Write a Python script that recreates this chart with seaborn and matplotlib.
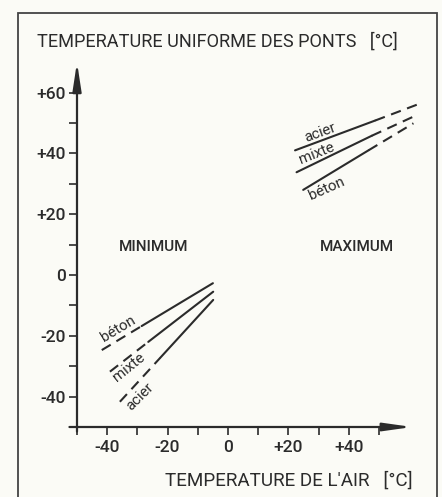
import matplotlib
matplotlib.use("Agg")
import matplotlib.pyplot as plt
from matplotlib.patches import Rectangle
import seaborn as sns
import pandas as pd

# ---------------- data ----------------
materials = ["béton", "mixte", "acier"]
# minimum (winter) lines: dashed start, solid start, end
min_x_dash = [-41.8, -39.1, -35.8]
min_y_dash = [-24.7, -31.8, -41.7]
min_x_solid = [-28.6, -26.4, -22.5]
min_y_solid = [-16.8, -22.0, -27.3]
min_x_end = [-5.0, -4.9, -4.9]
min_y_end = [-2.7, -5.5, -8.2]
# maximum (summer) lines: solid start, dashed start, end
max_x_solid = [24.9, 22.7, 22.2]
max_y_solid = [28.0, 33.8, 41.0]
max_x_dash = [46.5, 47.6, 48.7]
max_y_dash = [41.0, 45.8, 50.8]
max_x_end = [61.4, 62.5, 62.5]
max_y_end = [49.9, 52.6, 56.0]

y_ticks = [-40, -30, -20, -10, 0, 10, 20, 30, 40, 50, 60]
y_labels = ["-40", "", "-20", "", "0", "", "+20", "", "+40", "", "+60"]
x_ticks = [-50, -40, -30, -20, -10, 0, 10, 20, 30, 40, 50]
x_labels = ["", "-40", "", "-20", "", "0", "", "+20", "", "+40", ""]

title_y = "TEMPERATURE UNIFORME DES PONTS   [°C]"
title_x = "TEMPERATURE DE L'AIR   [°C]"

# label positions (text annotations)
min_lab_x = [-36.5, -32.8, -29.1]
min_lab_y = [-17.8, -30.2, -40.0]
min_lab_rot = [31, 39, 45]
max_lab_x = [32.8, 29.5, 30.5]
max_lab_y = [28.3, 40.0, 46.8]
max_lab_rot = [24, 22, 20]

# ---------------- build tables ----------------
rows = []
for i, m in enumerate(materials):
    rows += [
        dict(seg=f"min_dash_{m}", style="dash", x=min_x_dash[i], y=min_y_dash[i]),
        dict(seg=f"min_dash_{m}", style="dash", x=min_x_solid[i], y=min_y_solid[i]),
        dict(seg=f"min_solid_{m}", style="solid", x=min_x_solid[i], y=min_y_solid[i]),
        dict(seg=f"min_solid_{m}", style="solid", x=min_x_end[i], y=min_y_end[i]),
        dict(seg=f"max_solid_{m}", style="solid", x=max_x_solid[i], y=max_y_solid[i]),
        dict(seg=f"max_solid_{m}", style="solid", x=max_x_dash[i], y=max_y_dash[i]),
        dict(seg=f"max_dash_{m}", style="dash", x=max_x_dash[i], y=max_y_dash[i]),
        dict(seg=f"max_dash_{m}", style="dash", x=max_x_end[i], y=max_y_end[i]),
    ]
df = pd.DataFrame(rows)

# ---------------- figure ----------------
sns.set_theme(style="white")
plt.rcParams["font.family"] = ["Roboto", "DejaVu Sans"]
ink = "#2b2b2b"
bg = "#fbfbf6"

fig = plt.figure(figsize=(4.42, 4.97), dpi=100, facecolor=bg)
W, H = 442, 497
x0, xmin, xmax, pxx = 77, -50, 64, 3.02
y0, ymin, ymax, pxy = 427, -50, 71, 3.04
ax = fig.add_axes([x0 / W, (H - y0) / H, (xmax - xmin) * pxx / W, (ymax - ymin) * pxy / H])
ax.set_facecolor("none")

for seg, g in df.groupby("seg", sort=False):
    ls = (0, (5, 3.2)) if g["style"].iloc[0] == "dash" else "-"
    sns.lineplot(data=g, x="x", y="y", ax=ax, color=ink, lw=1.5, linestyle=ls,
                 sort=False, estimator=None, legend=False)

ax.set_xlim(xmin, xmax)
ax.set_ylim(ymin, ymax)
for s in ["top", "right", "left", "bottom"]:
    ax.spines[s].set_visible(False)

# axes lines with arrowheads
ax.annotate("", xy=(-50, 70), xytext=(-50, -51.5),
            arrowprops=dict(arrowstyle="-|>,head_length=0.85,head_width=0.13",
                            color=ink, lw=1.6, mutation_scale=20, shrinkA=0, shrinkB=0))
ax.annotate("", xy=(61, -50), xytext=(-52.5, -50),
            arrowprops=dict(arrowstyle="-|>,head_length=0.85,head_width=0.12",
                            color=ink, lw=1.6, mutation_scale=20, shrinkA=0, shrinkB=0))

ax.set_yticks(y_ticks)
ax.set_yticklabels(y_labels)
ax.set_xticks(x_ticks)
ax.set_xticklabels(x_labels)
ax.tick_params(axis="y", direction="out", length=6, width=1.2, color=ink,
               labelsize=12.5, labelcolor=ink, pad=2, left=True)
ax.tick_params(axis="x", direction="out", length=5.5, width=1.2, color=ink,
               labelsize=12.5, labelcolor=ink, pad=4, bottom=True)
for lab in ax.get_xticklabels() + ax.get_yticklabels():
    lab.set_fontweight("medium")
ax.set_xlabel("")
ax.set_ylabel("")

# labels on lines
for i, m in enumerate(materials):
    ax.text(min_lab_x[i], min_lab_y[i], m, rotation=min_lab_rot[i], ha="center", va="center",
            fontsize=10.8, color=ink, rotation_mode="anchor")
    ax.text(max_lab_x[i], max_lab_y[i], m, rotation=max_lab_rot[i], ha="center", va="center",
            fontsize=10.8, color=ink, rotation_mode="anchor")

ax.text(-24.5, 9.2, "MINIMUM", ha="center", va="center", fontsize=11, color=ink, fontweight="medium")
ax.text(42.6, 9.2, "MAXIMUM", ha="center", va="center", fontsize=11, color=ink, fontweight="medium")

# titles in figure pixels
fig.text(37 / W, 1 - 42 / H, title_y, ha="left", va="center", fontsize=13.1, color=ink)
fig.text(413 / W, 1 - 481 / H, title_x, ha="right", va="center", fontsize=13.6, color=ink)

# outer frame
fig.patches.append(Rectangle((18 / W, -0.02), (437 - 18) / W, 1.02 - 13 / H,
                             transform=fig.transFigure, fill=False, ec="#444444", lw=1.3))

fig.savefig("out.png", dpi=100, facecolor=bg)
